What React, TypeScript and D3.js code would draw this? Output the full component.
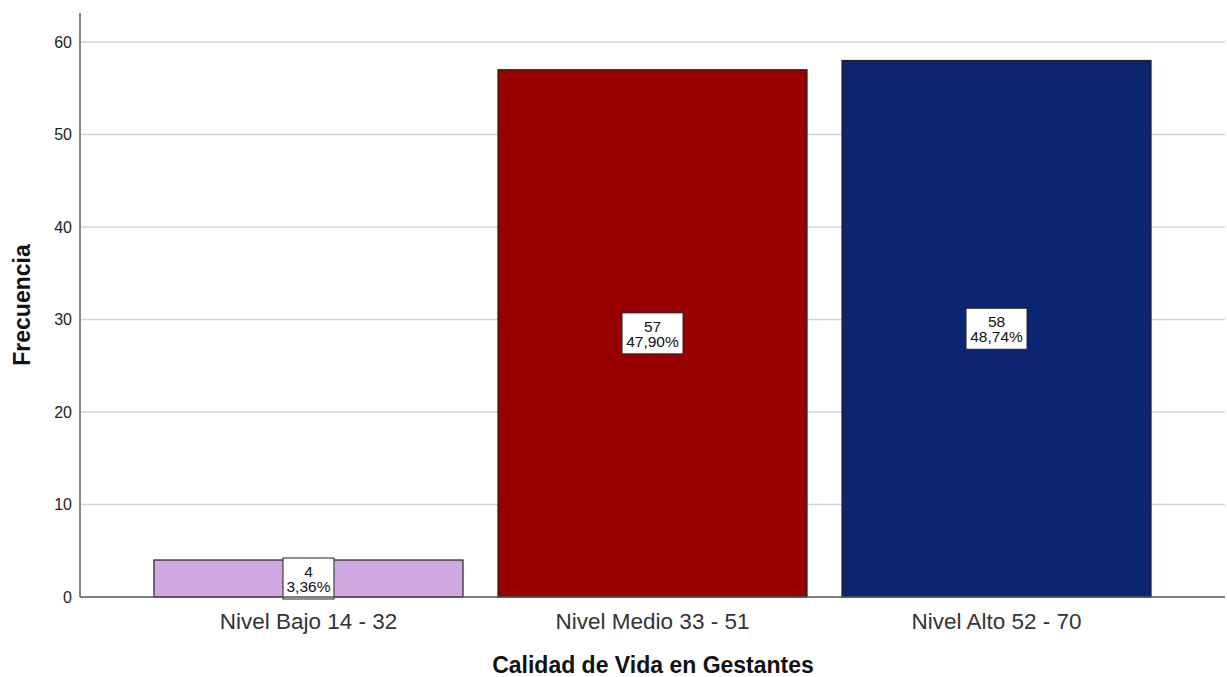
import React from "react";
import * as d3 from "d3";

const categories = ["Nivel Bajo 14 - 32", "Nivel Medio 33 - 51", "Nivel Alto 52 - 70"];
const counts = [4, 57, 58];
const percents = ["3,36%", "47,90%", "48,74%"];
const colors = ["#D0A9E2", "#990000", "#0B2570"];
const yTicks = [0, 10, 20, 30, 40, 50, 60];

const W = 1227;
const H = 677;
const left = 80;
const right = 1225;
const bottom = 597;
const top = 13;

export default function App() {
  const x = d3.scaleBand<string>().domain(categories).range([left, right]).paddingInner(0.1017).paddingOuter(0.215);
  const y = d3.scaleLinear().domain([0, 60]).range([bottom, 42]);
  const bw = x.bandwidth();
  return (
    <svg width={W} height={H} style={{ position: "absolute", left: 0, top: 0, fontFamily: "Arial, 'Liberation Sans', sans-serif" }}>
      <rect width={W} height={H} fill="#fff" />
      {yTicks.filter((t) => t > 0).map((t) => (
        <line key={t} x1={left} x2={right} y1={y(t)} y2={y(t)} stroke="#d4d4d4" strokeWidth={1.5} />
      ))}
      {yTicks.map((t) => (
        <text key={"l" + t} x={left - 8} y={y(t)} dy="0.35em" textAnchor="end" fontSize={16} fill="#222">{t}</text>
      ))}
      {categories.map((c, i) => {
        const x0 = x(c)!;
        const cx = x0 + bw / 2;
        const yt = y(counts[i]);
        const cy = (yt + bottom) / 2;
        const bwBox = percents[i].length * 10 + 1;
        return (
          <g key={c}>
            <rect x={x0} y={yt} width={bw} height={bottom - yt} fill={colors[i]} stroke="#222" strokeWidth={1.2} />
            <rect x={cx - bwBox / 2} y={cy - 20.5} width={bwBox} height={41} fill="#fff" stroke="#222" strokeWidth={1} />
            <text x={cx} y={cy - 7} dy="0.35em" textAnchor="middle" fontSize={15.5} fill="#111">{counts[i]}</text>
            <text x={cx} y={cy + 8} dy="0.35em" textAnchor="middle" fontSize={15.5} fill="#111">{percents[i]}</text>
            <text x={cx} y={621} dy="0.35em" textAnchor="middle" fontSize={22.5} fill="#333">{c}</text>
          </g>
        );
      })}
      <line x1={left} x2={left} y1={top} y2={bottom} stroke="#888" strokeWidth={2} />
      <line x1={left} x2={right} y1={bottom} y2={bottom} stroke="#555" strokeWidth={1.5} />
      <text transform={`translate(22,305) rotate(-90)`} textAnchor="middle" dy="0.35em" fontSize={23} fontWeight="bold" fill="#111">Frecuencia</text>
      <text x={653} y={665} dy="0.35em" textAnchor="middle" fontSize={23} fontWeight="bold" fill="#111">Calidad de Vida en Gestantes</text>
    </svg>
  );
}
